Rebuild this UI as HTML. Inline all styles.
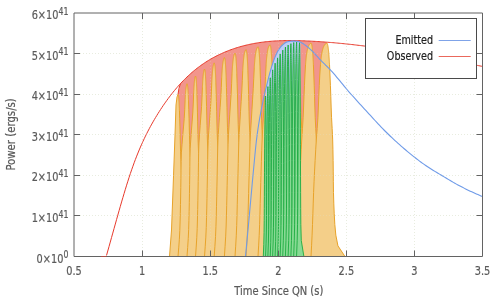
<!DOCTYPE html>
<html><head><meta charset="utf-8"><title>Power vs Time Since QN</title>
<style>html,body{margin:0;padding:0;background:#fff}svg{display:block}</style></head>
<body>
<svg width="500" height="300" viewBox="0 0 500 300">
<rect width="500" height="300" fill="#fff"/>
<path d="M74.00 215.50 H482.50 M74.00 175.50 H482.50 M74.00 134.50 H482.50 M74.00 94.50 H482.50 M74.00 53.50 H482.50 M142.50 13.00 V256.50 M210.50 13.00 V256.50 M278.50 13.00 V256.50 M346.50 13.00 V256.50 M414.50 13.00 V256.50" fill="none" stroke="#dde3cf" stroke-width="1" stroke-dasharray="1 2" opacity="0.55"/>
<path d="M178.00 94.50 L180.50 83.60 L181.48 82.55 L182.46 81.52 L183.45 80.51 L184.43 79.51 L185.41 78.54 L186.39 77.58 L187.37 76.64 L188.36 75.72 L189.34 74.82 L190.32 73.93 L191.30 73.06 L192.28 72.21 L193.26 71.38 L194.25 70.56 L195.23 69.76 L196.21 68.97 L197.19 68.20 L198.17 67.45 L199.16 66.71 L200.14 65.99 L201.12 65.28 L202.10 64.59 L203.08 63.91 L204.07 63.24 L205.05 62.59 L206.03 61.96 L207.01 61.33 L207.99 60.72 L208.97 60.13 L209.96 59.54 L210.94 58.97 L211.92 58.41 L212.90 57.87 L213.88 57.33 L214.87 56.81 L215.85 56.30 L216.83 55.80 L217.81 55.31 L218.79 54.83 L219.78 54.37 L220.76 53.91 L221.74 53.46 L222.72 53.02 L223.70 52.60 L224.68 52.18 L225.67 51.77 L226.65 51.37 L227.63 50.98 L228.61 50.59 L229.59 50.22 L230.58 49.85 L231.56 49.50 L232.54 49.15 L233.52 48.81 L234.50 48.48 L235.49 48.16 L236.47 47.84 L237.45 47.54 L238.43 47.24 L239.41 46.95 L240.39 46.66 L241.38 46.39 L242.36 46.12 L243.34 45.86 L244.32 45.61 L245.30 45.36 L246.29 45.12 L247.27 44.89 L248.25 44.67 L249.23 44.45 L250.21 44.24 L251.20 44.04 L252.18 43.84 L253.16 43.65 L254.14 43.47 L255.12 43.29 L256.10 43.12 L257.09 42.96 L258.07 42.80 L259.05 42.65 L260.03 42.51 L261.01 42.37 L262.00 42.23 L262.98 42.11 L263.96 41.98 L264.94 41.87 L265.92 41.76 L266.91 41.65 L267.89 41.55 L268.87 41.46 L269.85 41.37 L270.83 41.28 L271.81 41.20 L272.80 41.13 L273.78 41.06 L274.76 41.00 L275.74 40.94 L276.72 40.88 L277.71 40.83 L278.69 40.78 L279.67 40.74 L280.65 40.70 L281.63 40.67 L282.62 40.64 L283.60 40.62 L284.58 40.59 L285.56 40.58 L286.54 40.56 L287.52 40.55 L288.51 40.54 L289.49 40.54 L290.47 40.54 L291.45 40.54 L292.43 40.55 L293.42 40.56 L294.40 40.57 L295.38 40.59 L296.36 40.61 L297.34 40.63 L298.33 40.65 L299.31 40.68 L300.29 40.71 L301.27 40.74 L302.25 40.77 L303.23 40.81 L304.22 40.84 L305.20 40.88 L306.18 40.93 L307.16 40.97 L308.14 41.02 L309.13 41.06 L310.11 41.11 L311.09 41.16 L312.07 41.22 L313.05 41.27 L314.04 41.33 L315.02 41.38 L316.00 41.44 L316.98 41.50 L317.96 41.56 L318.94 41.63 L319.93 41.69 L320.91 41.76 L321.89 41.82 L322.87 41.89 L323.85 41.96 L324.84 42.04 L325.82 42.11 L326.80 42.18 L326.80 256.50 L178.00 256.50Z" fill="#f2958c" stroke="none"/>
<path d="M178 94.5 Q178.6 88 180.5 83.5" fill="none" stroke="#e8392b" stroke-width="1"/>
<path d="M169.50 256.50 L171.50 230.00 L173.00 190.00 L175.00 135.00 L176.00 105.00 L177.00 97.00 L178.00 94.50 L178.20 94.91 L178.34 95.31 L178.42 95.72 L178.50 96.12 L178.56 96.53 L178.62 96.93 L178.66 97.33 L178.71 97.74 L178.75 98.14 L178.78 98.55 L178.82 98.95 L178.85 99.36 L178.88 99.76 L178.91 100.17 L178.94 100.57 L178.97 100.98 L179.00 101.38 L179.03 101.79 L179.05 102.19 L179.08 102.60 L179.10 103.00 L179.13 103.41 L179.15 103.81 L179.17 104.22 L179.19 104.62 L179.21 105.03 L179.23 105.44 L179.25 105.84 L179.27 106.25 L179.29 106.65 L179.31 107.06 L179.33 107.46 L179.34 107.87 L179.36 108.27 L179.38 108.68 L179.39 109.08 L179.41 109.49 L179.42 109.89 L179.45 110.70 L179.71 118.80 L179.96 126.90 L180.15 135.00 L180.34 143.10 L180.56 151.20 L180.88 159.30 L181.23 167.40 L181.59 175.50 L181.91 183.60 L182.19 191.70 L182.45 199.80 L182.74 207.90 L183.12 216.00 L183.57 224.10 L184.10 232.20 L184.85 240.30 L186.20 248.40 L190.20 256.50Z" fill="#f4cf89" stroke="#e8a32a" stroke-width="1" stroke-linejoin="round"/>
<path d="M178.00 256.50 L178.73 247.86 L179.36 239.23 L179.80 230.59 L180.08 221.96 L180.30 213.32 L180.48 204.69 L180.64 196.05 L180.79 187.42 L180.91 178.78 L181.00 170.15 L181.13 161.51 L181.39 152.88 L182.04 144.24 L182.74 135.61 L183.51 126.97 L184.23 118.34 L184.73 109.70 L185.07 101.07 L185.11 100.20 L185.13 99.77 L185.15 99.34 L185.18 98.91 L185.20 98.47 L185.22 98.04 L185.25 97.61 L185.27 97.18 L185.30 96.75 L185.32 96.32 L185.35 95.88 L185.38 95.45 L185.41 95.02 L185.44 94.59 L185.47 94.16 L185.50 93.73 L185.53 93.29 L185.56 92.86 L185.60 92.43 L185.63 92.00 L185.67 91.57 L185.71 91.13 L185.75 90.70 L185.79 90.27 L185.83 89.84 L185.87 89.41 L185.92 88.98 L185.97 88.54 L186.02 88.11 L186.08 87.68 L186.14 87.25 L186.20 86.82 L186.27 86.39 L186.35 85.95 L186.44 85.52 L186.53 85.09 L186.65 84.66 L186.82 84.23 L187.00 83.79 L187.21 84.23 L187.36 84.66 L187.45 85.09 L187.53 85.52 L187.59 85.95 L187.65 86.39 L187.70 86.82 L187.75 87.25 L187.79 87.68 L187.83 88.11 L187.86 88.54 L187.90 88.98 L187.93 89.41 L187.97 89.84 L188.00 90.27 L188.03 90.70 L188.06 91.13 L188.09 91.57 L188.12 92.00 L188.14 92.43 L188.17 92.86 L188.19 93.29 L188.22 93.73 L188.24 94.16 L188.26 94.59 L188.28 95.02 L188.31 95.45 L188.33 95.88 L188.35 96.32 L188.37 96.75 L188.38 97.18 L188.40 97.61 L188.42 98.04 L188.44 98.47 L188.46 98.91 L188.47 99.34 L188.49 99.77 L188.51 100.20 L188.54 101.07 L188.81 109.70 L189.07 118.34 L189.28 126.97 L189.48 135.61 L189.71 144.24 L190.05 152.88 L190.42 161.51 L190.80 170.15 L191.14 178.78 L191.43 187.42 L191.71 196.05 L192.02 204.69 L192.42 213.32 L192.90 221.96 L193.46 230.59 L194.26 239.23 L195.68 247.86 L199.91 256.50Z" fill="#f4cf89" stroke="#e8a32a" stroke-width="1" stroke-linejoin="round"/>
<path d="M187.00 256.50 L187.67 247.47 L188.26 238.45 L188.66 229.42 L188.92 220.40 L189.13 211.37 L189.30 202.35 L189.46 193.32 L189.60 184.30 L189.72 175.27 L189.82 166.25 L189.95 157.22 L190.20 148.20 L190.81 139.17 L191.45 130.15 L192.16 121.12 L192.83 112.10 L193.29 103.07 L193.61 94.05 L193.65 93.15 L193.67 92.69 L193.69 92.24 L193.71 91.79 L193.73 91.34 L193.76 90.89 L193.78 90.44 L193.80 89.99 L193.83 89.54 L193.85 89.08 L193.88 88.63 L193.91 88.18 L193.93 87.73 L193.96 87.28 L193.99 86.83 L194.02 86.38 L194.05 85.93 L194.08 85.47 L194.11 85.02 L194.15 84.57 L194.18 84.12 L194.22 83.67 L194.26 83.22 L194.30 82.77 L194.34 82.32 L194.38 81.86 L194.43 81.41 L194.48 80.96 L194.53 80.51 L194.58 80.06 L194.64 79.61 L194.70 79.16 L194.77 78.71 L194.85 78.25 L194.94 77.80 L195.03 77.35 L195.15 76.90 L195.31 76.45 L195.50 76.00 L195.70 76.45 L195.84 76.90 L195.92 77.35 L196.00 77.80 L196.06 78.25 L196.12 78.71 L196.16 79.16 L196.21 79.61 L196.25 80.06 L196.28 80.51 L196.32 80.96 L196.35 81.41 L196.38 81.86 L196.41 82.32 L196.44 82.77 L196.47 83.22 L196.50 83.67 L196.53 84.12 L196.55 84.57 L196.58 85.02 L196.60 85.47 L196.63 85.93 L196.65 86.38 L196.67 86.83 L196.69 87.28 L196.71 87.73 L196.73 88.18 L196.75 88.63 L196.77 89.08 L196.79 89.54 L196.81 89.99 L196.83 90.44 L196.84 90.89 L196.86 91.34 L196.88 91.79 L196.89 92.24 L196.91 92.69 L196.92 93.15 L196.95 94.05 L197.21 103.07 L197.46 112.10 L197.65 121.12 L197.84 130.15 L198.06 139.17 L198.38 148.20 L198.73 157.22 L199.09 166.25 L199.41 175.27 L199.69 184.30 L199.95 193.32 L200.24 202.35 L200.62 211.37 L201.07 220.40 L201.60 229.42 L202.35 238.45 L203.70 247.47 L207.70 256.50Z" fill="#f4cf89" stroke="#e8a32a" stroke-width="1" stroke-linejoin="round"/>
<path d="M195.50 256.50 L196.19 247.13 L196.78 237.76 L197.19 228.38 L197.46 219.01 L197.68 209.64 L197.87 200.27 L198.04 190.89 L198.20 181.52 L198.34 172.15 L198.47 162.78 L198.62 153.40 L198.90 144.03 L199.53 134.66 L200.18 125.29 L200.89 115.92 L201.56 106.54 L202.04 97.17 L202.38 87.80 L202.42 86.86 L202.45 86.39 L202.47 85.92 L202.49 85.46 L202.52 84.99 L202.54 84.52 L202.57 84.05 L202.59 83.58 L202.62 83.11 L202.65 82.64 L202.67 82.18 L202.70 81.71 L202.73 81.24 L202.76 80.77 L202.79 80.30 L202.83 79.83 L202.86 79.36 L202.89 78.90 L202.93 78.43 L202.97 77.96 L203.01 77.49 L203.05 77.02 L203.09 76.55 L203.13 76.08 L203.18 75.61 L203.23 75.15 L203.28 74.68 L203.33 74.21 L203.39 73.74 L203.45 73.27 L203.51 72.80 L203.58 72.33 L203.66 71.87 L203.75 71.40 L203.85 70.93 L203.95 70.46 L204.09 69.99 L204.28 69.52 L204.50 69.05 L204.71 69.52 L204.86 69.99 L204.95 70.46 L205.03 70.93 L205.09 71.40 L205.15 71.87 L205.20 72.33 L205.25 72.80 L205.29 73.27 L205.33 73.74 L205.36 74.21 L205.40 74.68 L205.43 75.15 L205.47 75.61 L205.50 76.08 L205.53 76.55 L205.56 77.02 L205.59 77.49 L205.62 77.96 L205.64 78.43 L205.67 78.90 L205.69 79.36 L205.72 79.83 L205.74 80.30 L205.76 80.77 L205.78 81.24 L205.81 81.71 L205.83 82.18 L205.85 82.64 L205.87 83.11 L205.88 83.58 L205.90 84.05 L205.92 84.52 L205.94 84.99 L205.96 85.46 L205.97 85.92 L205.99 86.39 L206.01 86.86 L206.04 87.80 L206.31 97.17 L206.57 106.54 L206.78 115.92 L206.98 125.29 L207.21 134.66 L207.55 144.03 L207.92 153.40 L208.30 162.78 L208.64 172.15 L208.93 181.52 L209.21 190.89 L209.52 200.27 L209.92 209.64 L210.40 219.01 L210.96 228.38 L211.76 237.76 L213.18 247.13 L217.41 256.50Z" fill="#f4cf89" stroke="#e8a32a" stroke-width="1" stroke-linejoin="round"/>
<path d="M204.50 256.50 L205.20 246.82 L205.82 237.14 L206.25 227.46 L206.53 217.78 L206.77 208.09 L206.97 198.41 L207.16 188.73 L207.35 179.05 L207.52 169.37 L207.67 159.69 L207.86 150.01 L208.18 140.33 L208.84 130.64 L209.50 120.96 L210.22 111.28 L210.91 101.60 L211.40 91.92 L211.78 82.24 L211.83 81.27 L211.85 80.79 L211.88 80.30 L211.90 79.82 L211.93 79.33 L211.96 78.85 L211.98 78.37 L212.01 77.88 L212.04 77.40 L212.07 76.91 L212.10 76.43 L212.13 75.95 L212.17 75.46 L212.20 74.98 L212.24 74.49 L212.27 74.01 L212.31 73.53 L212.35 73.04 L212.39 72.56 L212.43 72.07 L212.47 71.59 L212.52 71.11 L212.57 70.62 L212.62 70.14 L212.67 69.65 L212.72 69.17 L212.78 68.69 L212.84 68.20 L212.90 67.72 L212.97 67.23 L213.05 66.75 L213.13 66.26 L213.22 65.78 L213.32 65.30 L213.43 64.81 L213.56 64.33 L213.71 63.84 L213.94 63.36 L214.20 62.88 L214.42 63.36 L214.59 63.84 L214.68 64.33 L214.77 64.81 L214.84 65.30 L214.90 65.78 L214.96 66.26 L215.01 66.75 L215.05 67.23 L215.09 67.72 L215.13 68.20 L215.17 68.69 L215.21 69.17 L215.24 69.65 L215.28 70.14 L215.31 70.62 L215.34 71.11 L215.37 71.59 L215.40 72.07 L215.43 72.56 L215.46 73.04 L215.49 73.53 L215.51 74.01 L215.54 74.49 L215.56 74.98 L215.58 75.46 L215.61 75.95 L215.63 76.43 L215.65 76.91 L215.67 77.40 L215.69 77.88 L215.71 78.37 L215.73 78.85 L215.75 79.33 L215.77 79.82 L215.79 80.30 L215.81 80.79 L215.82 81.27 L215.86 82.24 L216.15 91.92 L216.43 101.60 L216.66 111.28 L216.87 120.96 L217.12 130.64 L217.48 140.33 L217.89 150.01 L218.30 159.69 L218.66 169.37 L218.98 179.05 L219.27 188.73 L219.61 198.41 L220.04 208.09 L220.55 217.78 L221.16 227.46 L222.02 237.14 L223.56 246.82 L228.12 256.50Z" fill="#f4cf89" stroke="#e8a32a" stroke-width="1" stroke-linejoin="round"/>
<path d="M214.20 256.50 L214.90 246.56 L215.52 236.61 L215.95 226.67 L216.25 216.72 L216.49 206.78 L216.71 196.83 L216.92 186.89 L217.13 176.94 L217.32 167.00 L217.50 157.05 L217.72 147.11 L218.08 137.16 L218.75 127.22 L219.41 117.27 L220.12 107.33 L220.80 97.38 L221.30 87.44 L221.71 77.49 L221.76 76.50 L221.78 76.00 L221.81 75.50 L221.84 75.00 L221.86 74.51 L221.89 74.01 L221.92 73.51 L221.95 73.02 L221.99 72.52 L222.02 72.02 L222.05 71.52 L222.09 71.03 L222.12 70.53 L222.16 70.03 L222.20 69.54 L222.24 69.04 L222.28 68.54 L222.32 68.04 L222.36 67.55 L222.41 67.05 L222.46 66.55 L222.51 66.05 L222.56 65.56 L222.61 65.06 L222.67 64.56 L222.73 64.07 L222.79 63.57 L222.86 63.07 L222.93 62.57 L223.01 62.08 L223.09 61.58 L223.18 61.08 L223.28 60.58 L223.39 60.09 L223.52 59.59 L223.66 59.09 L223.84 58.60 L224.09 58.10 L224.40 57.60 L224.63 58.10 L224.81 58.60 L224.91 59.09 L225.00 59.59 L225.07 60.09 L225.14 60.58 L225.20 61.08 L225.25 61.58 L225.30 62.08 L225.34 62.57 L225.38 63.07 L225.42 63.57 L225.46 64.07 L225.50 64.56 L225.53 65.06 L225.57 65.56 L225.60 66.05 L225.63 66.55 L225.67 67.05 L225.70 67.55 L225.72 68.04 L225.75 68.54 L225.78 69.04 L225.81 69.54 L225.83 70.03 L225.86 70.53 L225.88 71.03 L225.90 71.52 L225.93 72.02 L225.95 72.52 L225.97 73.02 L225.99 73.51 L226.01 74.01 L226.03 74.51 L226.05 75.00 L226.07 75.50 L226.09 76.00 L226.11 76.50 L226.14 77.49 L226.45 87.44 L226.75 97.38 L226.98 107.33 L227.21 117.27 L227.47 127.22 L227.85 137.16 L228.28 147.11 L228.71 157.05 L229.09 167.00 L229.42 176.94 L229.74 186.89 L230.09 196.83 L230.54 206.78 L231.08 216.72 L231.72 226.67 L232.62 236.61 L234.24 246.56 L239.04 256.50Z" fill="#f4cf89" stroke="#e8a32a" stroke-width="1" stroke-linejoin="round"/>
<path d="M224.40 256.50 L225.09 246.33 L225.69 236.17 L226.13 226.00 L226.43 215.84 L226.68 205.67 L226.91 195.51 L227.14 185.34 L227.37 175.18 L227.59 165.01 L227.80 154.85 L228.05 144.68 L228.45 134.52 L229.12 124.35 L229.76 114.19 L230.45 104.02 L231.11 93.86 L231.61 83.69 L232.04 73.53 L232.09 72.51 L232.12 72.00 L232.15 71.49 L232.18 70.98 L232.21 70.48 L232.24 69.97 L232.27 69.46 L232.30 68.95 L232.34 68.44 L232.37 67.94 L232.41 67.43 L232.44 66.92 L232.48 66.41 L232.52 65.90 L232.56 65.39 L232.60 64.89 L232.65 64.38 L232.69 63.87 L232.74 63.36 L232.79 62.85 L232.84 62.34 L232.89 61.84 L232.95 61.33 L233.01 60.82 L233.07 60.31 L233.14 59.80 L233.21 59.29 L233.28 58.79 L233.36 58.28 L233.44 57.77 L233.53 57.26 L233.63 56.75 L233.74 56.25 L233.87 55.74 L234.01 55.23 L234.17 54.72 L234.36 54.21 L234.65 53.70 L235.00 53.20 L235.24 53.70 L235.42 54.21 L235.53 54.72 L235.62 55.23 L235.70 55.74 L235.77 56.25 L235.83 56.75 L235.88 57.26 L235.93 57.77 L235.98 58.28 L236.02 58.79 L236.06 59.29 L236.10 59.80 L236.14 60.31 L236.18 60.82 L236.21 61.33 L236.25 61.84 L236.28 62.34 L236.32 62.85 L236.35 63.36 L236.38 63.87 L236.41 64.38 L236.43 64.89 L236.46 65.39 L236.49 65.90 L236.51 66.41 L236.54 66.92 L236.56 67.43 L236.59 67.94 L236.61 68.44 L236.63 68.95 L236.65 69.46 L236.67 69.97 L236.70 70.48 L236.72 70.98 L236.74 71.49 L236.76 72.00 L236.78 72.51 L236.81 73.53 L237.13 83.69 L237.44 93.86 L237.69 104.02 L237.92 114.19 L238.19 124.35 L238.59 134.52 L239.03 144.68 L239.48 154.85 L239.88 165.01 L240.22 175.18 L240.55 185.34 L240.91 195.51 L241.38 205.67 L241.94 215.84 L242.60 226.00 L243.55 236.17 L245.23 246.33 L250.21 256.50Z" fill="#f4cf89" stroke="#e8a32a" stroke-width="1" stroke-linejoin="round"/>
<path d="M235.00 256.50 L235.68 246.16 L236.27 235.81 L236.70 225.47 L237.00 215.13 L237.26 204.78 L237.50 194.44 L237.74 184.10 L238.00 173.75 L238.25 163.41 L238.50 153.07 L238.79 142.72 L239.21 132.38 L239.88 122.04 L240.50 111.69 L241.16 101.35 L241.80 91.01 L242.30 80.66 L242.75 70.32 L242.81 69.28 L242.84 68.77 L242.87 68.25 L242.90 67.73 L242.93 67.22 L242.96 66.70 L243.00 66.18 L243.03 65.66 L243.07 65.15 L243.11 64.63 L243.14 64.11 L243.18 63.60 L243.22 63.08 L243.27 62.56 L243.31 62.04 L243.35 61.53 L243.40 61.01 L243.45 60.49 L243.50 59.98 L243.55 59.46 L243.61 58.94 L243.67 58.42 L243.73 57.91 L243.79 57.39 L243.86 56.87 L243.93 56.35 L244.01 55.84 L244.09 55.32 L244.17 54.80 L244.26 54.29 L244.36 53.77 L244.47 53.25 L244.59 52.73 L244.73 52.22 L244.89 51.70 L245.07 51.18 L245.28 50.67 L245.60 50.15 L246.00 49.63 L246.25 50.15 L246.44 50.67 L246.55 51.18 L246.64 51.70 L246.72 52.22 L246.80 52.73 L246.86 53.25 L246.92 53.77 L246.97 54.29 L247.01 54.80 L247.06 55.32 L247.10 55.84 L247.14 56.35 L247.18 56.87 L247.22 57.39 L247.26 57.91 L247.30 58.42 L247.33 58.94 L247.37 59.46 L247.40 59.98 L247.43 60.49 L247.46 61.01 L247.49 61.53 L247.52 62.04 L247.54 62.56 L247.57 63.08 L247.60 63.60 L247.62 64.11 L247.65 64.63 L247.67 65.15 L247.69 65.66 L247.72 66.18 L247.74 66.70 L247.76 67.22 L247.78 67.73 L247.80 68.25 L247.82 68.77 L247.84 69.28 L247.88 70.32 L248.21 80.66 L248.53 91.01 L248.79 101.35 L249.03 111.69 L249.31 122.04 L249.72 132.38 L250.18 142.72 L250.65 153.07 L251.06 163.41 L251.42 173.75 L251.75 184.10 L252.13 194.44 L252.62 204.78 L253.21 215.13 L253.89 225.47 L254.87 235.81 L256.61 246.16 L261.79 256.50Z" fill="#f4cf89" stroke="#e8a32a" stroke-width="1" stroke-linejoin="round"/>
<path d="M246.00 256.50 L246.69 246.01 L247.29 235.53 L247.74 225.04 L248.06 214.55 L248.33 204.07 L248.60 193.58 L248.88 183.10 L249.18 172.61 L249.48 162.12 L249.77 151.64 L250.12 141.15 L250.62 130.66 L251.31 120.18 L251.94 109.69 L252.59 99.20 L253.23 88.72 L253.75 78.23 L254.25 67.75 L254.31 66.70 L254.34 66.17 L254.38 65.65 L254.41 65.12 L254.45 64.60 L254.48 64.08 L254.52 63.55 L254.56 63.03 L254.60 62.50 L254.64 61.98 L254.69 61.45 L254.73 60.93 L254.78 60.41 L254.82 59.88 L254.87 59.36 L254.92 58.83 L254.98 58.31 L255.03 57.78 L255.09 57.26 L255.15 56.74 L255.21 56.21 L255.28 55.69 L255.35 55.16 L255.42 54.64 L255.50 54.11 L255.58 53.59 L255.67 53.07 L255.76 52.54 L255.86 52.02 L255.96 51.49 L256.08 50.97 L256.20 50.44 L256.35 49.92 L256.51 49.39 L256.69 48.87 L256.90 48.35 L257.14 47.82 L257.52 47.30 L258.00 46.77 L258.28 47.30 L258.48 47.82 L258.60 48.35 L258.70 48.87 L258.79 49.39 L258.87 49.92 L258.94 50.44 L259.00 50.97 L259.05 51.49 L259.10 52.02 L259.15 52.54 L259.20 53.07 L259.25 53.59 L259.29 54.11 L259.33 54.64 L259.37 55.16 L259.41 55.69 L259.45 56.21 L259.49 56.74 L259.52 57.26 L259.56 57.78 L259.59 58.31 L259.62 58.83 L259.65 59.36 L259.68 59.88 L259.71 60.41 L259.74 60.93 L259.77 61.45 L259.79 61.98 L259.82 62.50 L259.85 63.03 L259.87 63.55 L259.90 64.08 L259.92 64.60 L259.94 65.12 L259.97 65.65 L259.99 66.17 L260.01 66.70 L260.05 67.75 L260.41 78.23 L260.76 88.72 L261.04 99.20 L261.30 109.69 L261.61 120.18 L262.06 130.66 L262.56 141.15 L263.07 151.64 L263.52 162.12 L263.91 172.61 L264.28 183.10 L264.69 193.58 L265.23 204.07 L265.86 214.55 L266.61 225.04 L267.68 235.53 L269.58 246.01 L275.22 256.50Z" fill="#f4cf89" stroke="#e8a32a" stroke-width="1" stroke-linejoin="round"/>
<path d="M258.00 256.50 L258.63 245.92 L259.19 235.33 L259.62 224.75 L259.93 214.17 L260.20 203.58 L260.48 193.00 L260.77 182.42 L261.08 171.83 L261.40 161.25 L261.73 150.67 L262.11 140.08 L262.63 129.50 L263.30 118.92 L263.87 108.33 L264.45 97.75 L265.04 87.17 L265.54 76.58 L266.04 66.00 L266.10 64.94 L266.14 64.41 L266.17 63.88 L266.21 63.36 L266.24 62.83 L266.28 62.30 L266.32 61.77 L266.36 61.24 L266.40 60.71 L266.45 60.18 L266.49 59.65 L266.54 59.12 L266.58 58.59 L266.63 58.06 L266.68 57.53 L266.73 57.01 L266.79 56.48 L266.85 55.95 L266.91 55.42 L266.97 54.89 L267.03 54.36 L267.10 53.83 L267.18 53.30 L267.25 52.77 L267.33 52.24 L267.42 51.71 L267.51 51.19 L267.61 50.66 L267.71 50.13 L267.82 49.60 L267.94 49.07 L268.07 48.54 L268.22 48.01 L268.40 47.48 L268.59 46.95 L268.81 46.42 L269.08 45.89 L269.48 45.36 L270.00 44.84 L270.28 45.36 L270.48 45.89 L270.60 46.42 L270.70 46.95 L270.79 47.48 L270.87 48.01 L270.94 48.54 L271.00 49.07 L271.05 49.60 L271.10 50.13 L271.15 50.66 L271.20 51.19 L271.25 51.71 L271.29 52.24 L271.33 52.77 L271.37 53.30 L271.41 53.83 L271.45 54.36 L271.49 54.89 L271.52 55.42 L271.56 55.95 L271.59 56.48 L271.62 57.01 L271.65 57.53 L271.68 58.06 L271.71 58.59 L271.74 59.12 L271.77 59.65 L271.79 60.18 L271.82 60.71 L271.85 61.24 L271.87 61.77 L271.90 62.30 L271.92 62.83 L271.94 63.36 L271.97 63.88 L271.99 64.41 L272.01 64.94 L272.05 66.00 L272.41 76.58 L272.76 87.17 L273.04 97.75 L273.30 108.33 L273.61 118.92 L274.06 129.50 L274.56 140.08 L275.07 150.67 L275.52 161.25 L275.91 171.83 L276.28 182.42 L276.69 193.00 L277.23 203.58 L277.86 214.17 L278.61 224.75 L279.68 235.33 L281.58 245.92 L287.22 256.50Z" fill="#f4cf89" stroke="#e8a32a" stroke-width="1" stroke-linejoin="round"/>
<path d="M270.00 256.50 L270.63 245.85 L271.18 235.21 L271.62 224.56 L271.94 213.92 L272.24 203.27 L272.54 192.63 L272.87 181.98 L273.23 171.34 L273.60 160.69 L274.00 150.05 L274.45 139.40 L275.04 128.75 L275.73 118.11 L276.28 107.46 L276.83 96.82 L277.40 86.17 L277.91 75.53 L278.47 64.88 L278.54 63.82 L278.57 63.28 L278.61 62.75 L278.65 62.22 L278.69 61.69 L278.74 61.16 L278.78 60.62 L278.82 60.09 L278.87 59.56 L278.92 59.03 L278.97 58.49 L279.02 57.96 L279.07 57.43 L279.13 56.90 L279.18 56.36 L279.24 55.83 L279.30 55.30 L279.37 54.77 L279.43 54.24 L279.50 53.70 L279.58 53.17 L279.65 52.64 L279.74 52.11 L279.82 51.57 L279.92 51.04 L280.02 50.51 L280.12 49.98 L280.23 49.45 L280.35 48.91 L280.47 48.38 L280.61 47.85 L280.76 47.32 L280.94 46.78 L281.13 46.25 L281.36 45.72 L281.62 45.19 L281.92 44.65 L282.39 44.12 L283.00 43.59 L283.30 44.12 L283.52 44.65 L283.65 45.19 L283.76 45.72 L283.86 46.25 L283.94 46.78 L284.02 47.32 L284.08 47.85 L284.14 48.38 L284.20 48.91 L284.25 49.45 L284.30 49.98 L284.35 50.51 L284.40 51.04 L284.44 51.57 L284.49 52.11 L284.53 52.64 L284.57 53.17 L284.61 53.70 L284.65 54.24 L284.69 54.77 L284.72 55.30 L284.76 55.83 L284.79 56.36 L284.82 56.90 L284.86 57.43 L284.89 57.96 L284.92 58.49 L284.94 59.03 L284.97 59.56 L285.00 60.09 L285.03 60.62 L285.05 61.16 L285.08 61.69 L285.11 62.22 L285.13 62.75 L285.15 63.28 L285.18 63.82 L285.22 64.88 L285.61 75.53 L285.99 86.17 L286.29 96.82 L286.58 107.46 L286.91 118.11 L287.40 128.75 L287.94 139.40 L288.50 150.05 L288.98 160.69 L289.40 171.34 L289.80 181.98 L290.25 192.63 L290.83 203.27 L291.51 213.92 L292.33 224.56 L293.48 235.21 L295.54 245.85 L301.65 256.50Z" fill="#f4cf89" stroke="#e8a32a" stroke-width="1" stroke-linejoin="round"/>
<path d="M283.00 256.50 L283.61 245.83 L284.15 235.15 L284.58 224.48 L284.92 213.80 L285.23 203.13 L285.56 192.46 L285.93 181.78 L286.35 171.11 L286.79 160.43 L287.25 149.76 L287.78 139.09 L288.45 128.41 L289.15 117.74 L289.67 107.06 L290.17 96.39 L290.71 85.71 L291.22 75.04 L291.83 64.37 L291.91 63.30 L291.95 62.77 L292.00 62.23 L292.04 61.70 L292.08 61.16 L292.13 60.63 L292.18 60.10 L292.23 59.56 L292.28 59.03 L292.33 58.50 L292.39 57.96 L292.45 57.43 L292.51 56.90 L292.57 56.36 L292.63 55.83 L292.69 55.29 L292.76 54.76 L292.83 54.23 L292.91 53.69 L292.99 53.16 L293.07 52.63 L293.16 52.09 L293.25 51.56 L293.35 51.02 L293.45 50.49 L293.57 49.96 L293.68 49.42 L293.81 48.89 L293.94 48.36 L294.08 47.82 L294.24 47.29 L294.41 46.75 L294.61 46.22 L294.84 45.69 L295.10 45.15 L295.40 44.62 L295.74 44.09 L296.29 43.55 L297.00 43.02 L297.32 43.55 L297.56 44.09 L297.70 44.62 L297.82 45.15 L297.92 45.69 L298.01 46.22 L298.09 46.75 L298.17 47.29 L298.23 47.82 L298.29 48.36 L298.35 48.89 L298.40 49.42 L298.45 49.96 L298.51 50.49 L298.56 51.02 L298.60 51.56 L298.65 52.09 L298.69 52.63 L298.74 53.16 L298.78 53.69 L298.82 54.23 L298.86 54.76 L298.89 55.29 L298.93 55.83 L298.96 56.36 L299.00 56.90 L299.03 57.43 L299.06 57.96 L299.09 58.50 L299.12 59.03 L299.15 59.56 L299.18 60.10 L299.21 60.63 L299.24 61.16 L299.27 61.70 L299.29 62.23 L299.32 62.77 L299.35 63.30 L299.39 64.37 L299.82 75.04 L300.22 85.71 L300.55 96.39 L300.85 107.06 L301.21 117.74 L301.74 128.41 L302.32 139.09 L302.92 149.76 L303.44 160.43 L303.89 171.11 L304.32 181.78 L304.80 192.46 L305.43 203.13 L306.17 213.80 L307.04 224.48 L308.29 235.15 L310.50 245.83 L317.09 256.50Z" fill="#f4cf89" stroke="#e8a32a" stroke-width="1" stroke-linejoin="round"/>
<path d="M297.00 256.50 L297.54 245.82 L298.02 235.15 L298.42 224.47 L298.75 213.80 L299.06 203.12 L299.39 192.45 L299.78 181.77 L300.22 171.10 L300.69 160.42 L301.20 149.75 L301.77 139.07 L302.48 128.40 L303.13 117.72 L303.58 107.05 L303.99 96.37 L304.45 85.70 L304.93 75.02 L305.55 64.35 L305.63 63.28 L305.67 62.75 L305.72 62.21 L305.76 61.68 L305.81 61.15 L305.86 60.61 L305.91 60.08 L305.96 59.55 L306.01 59.01 L306.07 58.48 L306.12 57.94 L306.18 57.41 L306.24 56.88 L306.30 56.34 L306.37 55.81 L306.44 55.28 L306.51 54.74 L306.58 54.21 L306.66 53.67 L306.74 53.14 L306.83 52.61 L306.92 52.07 L307.02 51.54 L307.12 51.01 L307.23 50.47 L307.35 49.94 L307.47 49.40 L307.60 48.87 L307.74 48.34 L307.89 47.80 L308.05 47.27 L308.24 46.74 L308.45 46.20 L308.69 45.67 L308.96 45.13 L309.28 44.60 L309.65 44.07 L310.23 43.53 L311.00 43.00 L311.32 43.53 L311.56 44.07 L311.70 44.60 L311.82 45.13 L311.92 45.67 L312.01 46.20 L312.09 46.74 L312.17 47.27 L312.23 47.80 L312.29 48.34 L312.35 48.87 L312.40 49.40 L312.45 49.94 L312.51 50.47 L312.56 51.01 L312.60 51.54 L312.65 52.07 L312.69 52.61 L312.74 53.14 L312.78 53.67 L312.82 54.21 L312.86 54.74 L312.89 55.28 L312.93 55.81 L312.96 56.34 L313.00 56.88 L313.03 57.41 L313.06 57.94 L313.09 58.48 L313.12 59.01 L313.15 59.55 L313.18 60.08 L313.21 60.61 L313.24 61.15 L313.27 61.68 L313.29 62.21 L313.32 62.75 L313.35 63.28 L313.39 64.35 L313.82 75.02 L314.22 85.70 L314.55 96.37 L314.85 107.05 L315.21 117.72 L315.74 128.40 L316.32 139.07 L316.92 149.75 L317.44 160.42 L317.89 171.10 L318.32 181.77 L318.80 192.45 L319.43 203.12 L320.17 213.80 L321.04 224.47 L322.29 235.15 L324.50 245.82 L331.09 256.50Z" fill="#f4cf89" stroke="#e8a32a" stroke-width="1" stroke-linejoin="round"/>
<path d="M311.00 256.50 L311.57 245.82 L312.08 235.15 L312.51 224.47 L312.88 213.80 L313.22 203.12 L313.60 192.45 L314.05 181.77 L314.56 171.10 L315.11 160.43 L315.71 149.75 L316.37 139.07 L317.20 128.40 L317.91 117.72 L318.37 107.05 L318.78 96.38 L319.26 85.70 L319.78 75.02 L320.49 64.35 L320.58 63.28 L320.63 62.75 L320.68 62.22 L320.73 61.68 L320.78 61.15 L320.84 60.61 L320.90 60.08 L320.96 59.55 L321.02 59.01 L321.08 58.48 L321.14 57.94 L321.21 57.41 L321.28 56.88 L321.35 56.34 L321.43 55.81 L321.51 55.28 L321.59 54.74 L321.67 54.21 L321.76 53.68 L321.85 53.14 L321.95 52.61 L322.06 52.07 L322.17 51.54 L322.29 51.01 L322.42 50.47 L322.55 49.94 L322.69 49.41 L322.85 48.87 L323.01 48.34 L323.18 47.80 L323.37 47.27 L323.58 46.74 L323.83 46.20 L324.11 45.67 L324.43 45.13 L324.80 44.60 L325.22 44.07 L325.90 43.53 L326.80 43.00 L327.16 43.53 L327.43 44.07 L327.59 44.60 L327.72 45.13 L327.84 45.67 L327.94 46.20 L328.04 46.74 L328.12 47.27 L328.19 47.80 L328.25 48.34 L328.32 48.87 L328.38 49.41 L328.44 49.94 L328.50 50.47 L328.56 51.01 L328.61 51.54 L328.66 52.07 L328.71 52.61 L328.76 53.14 L328.81 53.68 L328.85 54.21 L328.90 54.74 L328.94 55.28 L328.98 55.81 L329.02 56.34 L329.06 56.88 L329.09 57.41 L329.13 57.94 L329.16 58.48 L329.20 59.01 L329.23 59.55 L329.26 60.08 L329.30 60.61 L329.33 61.15 L329.36 61.68 L329.39 62.22 L329.42 62.75 L329.45 63.28 L329.50 64.35 L329.98 75.02 L330.43 85.70 L330.80 96.38 L331.15 107.05 L331.56 117.72 L332.15 128.40 L332.65 139.07 L332.93 149.75 L333.12 160.43 L333.24 171.10 L333.33 181.77 L333.48 192.45 L333.79 203.12 L334.23 213.80 L334.82 224.47 L335.83 235.15 L337.93 245.82 L344.97 256.50Z" fill="#f4cf89" stroke="#e8a32a" stroke-width="1" stroke-linejoin="round"/>
<path d="M106.50 255.45 L107.76 251.03 L109.02 246.57 L110.27 242.09 L111.53 237.59 L112.79 233.09 L114.05 228.58 L115.30 224.08 L116.56 219.59 L117.82 215.13 L119.08 210.69 L120.33 206.30 L121.59 201.95 L122.85 197.66 L124.11 193.43 L125.36 189.26 L126.62 185.18 L127.88 181.19 L129.14 177.28 L130.39 173.48 L131.65 169.80 L132.91 166.22 L134.17 162.76 L135.42 159.41 L136.68 156.17 L137.94 153.02 L139.20 149.98 L140.45 147.03 L141.71 144.17 L142.97 141.39 L144.23 138.70 L145.48 136.09 L146.74 133.55 L148.00 131.09 L149.26 128.69 L150.51 126.35 L151.77 124.08 L153.03 121.86 L154.29 119.69 L155.54 117.57 L156.80 115.49 L158.06 113.46 L159.32 111.47 L160.57 109.52 L161.83 107.61 L163.09 105.73 L164.35 103.90 L165.60 102.11 L166.86 100.35 L168.12 98.63 L169.38 96.95 L170.63 95.30 L171.89 93.69 L173.15 92.12 L174.41 90.58 L175.66 89.08 L176.92 87.60 L178.18 86.17 L179.44 84.76 L180.69 83.39 L181.95 82.06 L183.21 80.75 L184.47 79.47 L185.72 78.23 L186.98 77.01 L188.24 75.83 L189.50 74.67 L190.75 73.54 L192.01 72.44 L193.27 71.37 L194.53 70.33 L195.78 69.31 L197.04 68.32 L198.30 67.35 L199.56 66.41 L200.81 65.50 L202.07 64.61 L203.33 63.74 L204.59 62.90 L205.84 62.08 L207.10 61.28 L208.36 60.50 L209.62 59.74 L210.87 59.01 L212.13 58.30 L213.39 57.60 L214.65 56.93 L215.90 56.27 L217.16 55.63 L218.42 55.01 L219.68 54.41 L220.93 53.83 L222.19 53.26 L223.45 52.70 L224.71 52.17 L225.96 51.65 L227.22 51.14 L228.48 50.64 L229.74 50.17 L230.99 49.70 L232.25 49.25 L233.51 48.81 L234.77 48.39 L236.03 47.98 L237.28 47.59 L238.54 47.20 L239.80 46.83 L241.06 46.48 L242.31 46.13 L243.57 45.80 L244.83 45.48 L246.09 45.17 L247.34 44.87 L248.60 44.59 L249.86 44.32 L251.12 44.06 L252.37 43.80 L253.63 43.56 L254.89 43.34 L256.15 43.12 L257.40 42.91 L258.66 42.71 L259.92 42.52 L261.18 42.34 L262.43 42.18 L263.69 42.02 L264.95 41.87 L266.21 41.73 L267.46 41.59 L268.72 41.47 L269.98 41.36 L271.24 41.25 L272.49 41.15 L273.75 41.06 L275.01 40.98 L276.27 40.91 L277.52 40.84 L278.78 40.78 L280.04 40.73 L281.30 40.68 L282.55 40.64 L283.81 40.61 L285.07 40.58 L286.33 40.56 L287.58 40.55 L288.84 40.54 L290.10 40.54 L291.36 40.54 L292.61 40.55 L293.87 40.56 L295.13 40.58 L296.39 40.61 L297.64 40.63 L298.90 40.67 L300.16 40.70 L301.42 40.74 L302.67 40.79 L303.93 40.83 L305.19 40.88 L306.45 40.94 L307.70 41.00 L308.96 41.06 L310.22 41.12 L311.48 41.18 L312.73 41.25 L313.99 41.32 L315.25 41.40 L316.51 41.47 L317.76 41.55 L319.02 41.63 L320.28 41.71 L321.54 41.80 L322.79 41.89 L324.05 41.98 L325.31 42.07 L326.57 42.17 L327.82 42.26 L329.08 42.36 L330.34 42.46 L331.60 42.57 L332.85 42.67 L334.11 42.78 L335.37 42.89 L336.63 43.01 L337.88 43.12 L339.14 43.24 L340.40 43.36 L341.66 43.48 L342.91 43.61 L344.17 43.73 L345.43 43.86 L346.69 43.99 L347.94 44.12 L349.20 44.26 L350.46 44.39 L351.72 44.53 L352.97 44.67 L354.23 44.82 L355.49 44.96 L356.75 45.11 L358.01 45.25 L359.26 45.40 L360.52 45.56 L361.78 45.71 L363.04 45.86 L364.29 46.02 L365.55 46.18 L366.81 46.34 L368.07 46.51 L369.32 46.67 L370.58 46.84 L371.84 47.00 L373.10 47.17 L374.35 47.35 L375.61 47.52 L376.87 47.69 L378.13 47.87 L379.38 48.05 L380.64 48.23 L381.90 48.41 L383.16 48.59 L384.41 48.77 L385.67 48.96 L386.93 49.15 L388.19 49.34 L389.44 49.53 L390.70 49.72 L391.96 49.91 L393.22 50.11 L394.47 50.30 L395.73 50.50 L396.99 50.70 L398.25 50.90 L399.50 51.10 L400.76 51.30 L402.02 51.50 L403.28 51.71 L404.53 51.92 L405.79 52.12 L407.05 52.33 L408.31 52.54 L409.56 52.75 L410.82 52.97 L412.08 53.18 L413.34 53.39 L414.59 53.61 L415.85 53.83 L417.11 54.04 L418.37 54.26 L419.62 54.48 L420.88 54.70 L422.14 54.93 L423.40 55.15 L424.65 55.37 L425.91 55.60 L427.17 55.83 L428.43 56.05 L429.68 56.28 L430.94 56.51 L432.20 56.74 L433.46 56.97 L434.71 57.20 L435.97 57.43 L437.23 57.66 L438.49 57.90 L439.74 58.13 L441.00 58.37 L442.26 58.60 L443.52 58.84 L444.77 59.08 L446.03 59.31 L447.29 59.55 L448.55 59.79 L449.80 60.03 L451.06 60.27 L452.32 60.51 L453.58 60.75 L454.83 61.00 L456.09 61.24 L457.35 61.48 L458.61 61.73 L459.86 61.97 L461.12 62.21 L462.38 62.46 L463.64 62.71 L464.89 62.95 L466.15 63.20 L467.41 63.44 L468.67 63.69 L469.92 63.94 L471.18 64.19 L472.44 64.43 L473.70 64.68 L474.95 64.93 L476.21 65.18 L477.47 65.43 L478.73 65.68 L479.98 65.93 L481.24 66.17 L482.50 66.42" fill="none" stroke="#e8392b" stroke-width="1"/>
<path d="M266.00 256.50 L266.00 88.05 L266.44 86.23 L266.87 84.44 L267.31 82.68 L267.75 80.94 L268.18 79.23 L268.62 77.54 L269.06 75.89 L269.49 74.27 L269.93 72.68 L270.37 71.13 L270.80 69.61 L271.24 68.13 L271.68 66.69 L272.11 65.29 L272.55 63.94 L272.99 62.62 L273.42 61.36 L273.86 60.13 L274.30 58.96 L274.73 57.83 L275.17 56.75 L275.61 55.72 L276.04 54.75 L276.48 53.83 L276.92 52.95 L277.35 52.11 L277.79 51.30 L278.23 50.53 L278.66 49.80 L279.10 49.12 L279.54 48.49 L279.97 47.90 L280.41 47.34 L280.85 46.80 L281.28 46.29 L281.72 45.81 L282.16 45.36 L282.59 44.93 L283.03 44.54 L283.47 44.18 L283.91 43.81 L284.34 43.46 L284.78 43.13 L285.22 42.81 L285.65 42.53 L286.09 42.29 L286.53 42.10 L286.96 41.95 L287.40 41.82 L287.84 41.70 L288.27 41.59 L288.71 41.49 L289.15 41.40 L289.58 41.33 L290.02 41.27 L290.46 41.22 L290.89 41.20 L291.33 41.17 L291.77 41.15 L292.20 41.14 L292.64 41.12 L293.08 41.11 L293.51 41.10 L293.95 41.10 L294.39 41.10 L294.82 41.12 L295.26 41.14 L295.70 41.18 L296.13 41.21 L296.57 41.26 L297.01 41.30 L297.44 41.36 L297.88 41.43 L298.32 41.52 L298.75 41.63 L299.19 41.75 L299.63 41.88 L300.06 42.02 L300.50 42.18 L300.50 256.50Z" fill="#bdcdf6" stroke="none"/>
<path d="M263.29 256.50 L263.77 244.46 L264.05 232.43 L264.20 220.39 L264.28 208.36 L264.35 196.32 L264.40 184.29 L264.47 172.25 L264.55 160.22 L264.64 148.18 L264.74 136.15 L264.87 124.11 L265.05 112.08 L265.07 110.47 L265.11 108.87 L265.14 107.26 L265.18 105.66 L265.22 104.05 L265.27 102.45 L265.32 100.84 L265.38 99.24 L265.46 97.63 L265.60 96.03 L265.70 97.63 L265.73 99.24 L265.76 100.84 L265.79 102.45 L265.82 104.05 L265.84 105.66 L265.87 107.26 L265.89 108.87 L265.91 110.47 L265.92 112.08 L266.03 124.11 L266.11 136.15 L266.17 148.18 L266.23 160.22 L266.28 172.25 L266.32 184.29 L266.37 196.32 L266.42 208.36 L266.49 220.39 L266.61 232.43 L266.94 244.46 L268.95 256.50Z" fill="#88da94" stroke="#1cab40" stroke-width="0.9" stroke-linejoin="round"/>
<path d="M265.55 256.50 L266.05 243.76 L266.33 231.01 L266.49 218.27 L266.57 205.53 L266.64 192.78 L266.69 180.04 L266.76 167.30 L266.84 154.55 L266.93 141.81 L267.04 129.07 L267.17 116.32 L267.35 103.58 L267.38 101.88 L267.41 100.18 L267.44 98.48 L267.48 96.78 L267.53 95.08 L267.58 93.38 L267.63 91.68 L267.69 89.99 L267.76 88.29 L267.91 86.59 L268.01 88.29 L268.05 89.99 L268.08 91.68 L268.11 93.38 L268.13 95.08 L268.16 96.78 L268.18 98.48 L268.20 100.18 L268.22 101.88 L268.24 103.58 L268.35 116.32 L268.43 129.07 L268.50 141.81 L268.55 154.55 L268.60 167.30 L268.65 180.04 L268.70 192.78 L268.75 205.53 L268.82 218.27 L268.94 231.01 L269.28 243.76 L271.33 256.50Z" fill="#88da94" stroke="#1cab40" stroke-width="0.9" stroke-linejoin="round"/>
<path d="M267.86 256.50 L268.37 243.10 L268.66 229.69 L268.82 216.29 L268.90 202.88 L268.97 189.48 L269.03 176.07 L269.09 162.67 L269.17 149.26 L269.27 135.86 L269.38 122.45 L269.51 109.05 L269.69 95.64 L269.72 93.85 L269.76 92.07 L269.79 90.28 L269.83 88.49 L269.88 86.70 L269.93 84.92 L269.98 83.13 L270.04 81.34 L270.12 79.55 L270.27 77.77 L270.37 79.55 L270.41 81.34 L270.44 83.13 L270.47 84.92 L270.50 86.70 L270.52 88.49 L270.55 90.28 L270.57 92.07 L270.59 93.85 L270.61 95.64 L270.72 109.05 L270.80 122.45 L270.87 135.86 L270.92 149.26 L270.97 162.67 L271.02 176.07 L271.07 189.48 L271.13 202.88 L271.20 216.29 L271.32 229.69 L271.66 243.10 L273.76 256.50Z" fill="#88da94" stroke="#1cab40" stroke-width="0.9" stroke-linejoin="round"/>
<path d="M270.22 256.50 L270.74 242.50 L271.03 228.50 L271.19 214.50 L271.28 200.51 L271.35 186.51 L271.41 172.51 L271.47 158.51 L271.56 144.51 L271.65 130.51 L271.77 116.52 L271.90 102.52 L272.09 88.52 L272.12 86.65 L272.15 84.79 L272.19 82.92 L272.23 81.05 L272.28 79.19 L272.33 77.32 L272.38 75.45 L272.44 73.59 L272.52 71.72 L272.68 69.86 L272.78 71.72 L272.82 73.59 L272.85 75.45 L272.88 77.32 L272.91 79.19 L272.93 81.05 L272.96 82.92 L272.98 84.79 L273.00 86.65 L273.02 88.52 L273.13 102.52 L273.22 116.52 L273.28 130.51 L273.34 144.51 L273.39 158.51 L273.44 172.51 L273.49 186.51 L273.55 200.51 L273.62 214.50 L273.74 228.50 L274.10 242.50 L276.23 256.50Z" fill="#88da94" stroke="#1cab40" stroke-width="0.9" stroke-linejoin="round"/>
<path d="M272.63 256.50 L273.15 242.00 L273.45 227.50 L273.62 213.00 L273.71 198.50 L273.78 183.99 L273.83 169.49 L273.90 154.99 L273.99 140.49 L274.09 125.99 L274.20 111.49 L274.34 96.99 L274.53 82.49 L274.56 80.55 L274.59 78.62 L274.63 76.68 L274.68 74.75 L274.72 72.82 L274.77 70.88 L274.83 68.95 L274.89 67.02 L274.97 65.08 L275.13 63.15 L275.24 65.08 L275.28 67.02 L275.30 68.95 L275.34 70.88 L275.36 72.82 L275.39 74.75 L275.42 76.68 L275.44 78.62 L275.46 80.55 L275.48 82.49 L275.59 96.99 L275.68 111.49 L275.75 125.99 L275.81 140.49 L275.86 154.99 L275.91 169.49 L275.96 183.99 L276.02 198.50 L276.10 213.00 L276.22 227.50 L276.58 242.00 L278.76 256.50Z" fill="#88da94" stroke="#1cab40" stroke-width="0.9" stroke-linejoin="round"/>
<path d="M275.08 256.50 L275.62 241.60 L275.92 226.71 L276.09 211.81 L276.18 196.92 L276.25 182.02 L276.31 167.12 L276.38 152.23 L276.47 137.33 L276.57 122.44 L276.69 107.54 L276.83 92.65 L277.02 77.75 L277.05 75.76 L277.09 73.78 L277.13 71.79 L277.17 69.81 L277.22 67.82 L277.27 65.83 L277.33 63.85 L277.39 61.86 L277.47 59.87 L277.63 57.89 L277.74 59.87 L277.78 61.86 L277.81 63.85 L277.84 65.83 L277.87 67.82 L277.90 69.81 L277.92 71.79 L277.95 73.78 L277.97 75.76 L277.99 77.75 L278.11 92.65 L278.19 107.54 L278.26 122.44 L278.32 137.33 L278.38 152.23 L278.43 167.12 L278.48 182.02 L278.54 196.92 L278.62 211.81 L278.74 226.71 L279.11 241.60 L281.33 256.50Z" fill="#88da94" stroke="#1cab40" stroke-width="0.9" stroke-linejoin="round"/>
<path d="M277.58 256.50 L278.13 241.31 L278.44 226.11 L278.61 210.92 L278.70 195.73 L278.78 180.53 L278.84 165.34 L278.91 150.14 L279.00 134.95 L279.10 119.76 L279.22 104.56 L279.36 89.37 L279.56 74.18 L279.59 72.15 L279.63 70.12 L279.67 68.10 L279.71 66.07 L279.76 64.05 L279.81 62.02 L279.87 60.00 L279.94 57.97 L280.02 55.94 L280.18 53.92 L280.29 55.94 L280.34 57.97 L280.37 60.00 L280.40 62.02 L280.43 64.05 L280.46 66.07 L280.48 68.10 L280.51 70.12 L280.53 72.15 L280.55 74.18 L280.67 89.37 L280.76 104.56 L280.83 119.76 L280.89 134.95 L280.95 150.14 L281.00 165.34 L281.05 180.53 L281.11 195.73 L281.19 210.92 L281.32 226.11 L281.69 241.31 L283.96 256.50Z" fill="#88da94" stroke="#1cab40" stroke-width="0.9" stroke-linejoin="round"/>
<path d="M280.13 256.50 L280.69 241.02 L281.01 225.54 L281.18 210.06 L281.28 194.58 L281.35 179.11 L281.41 163.63 L281.49 148.15 L281.58 132.67 L281.68 117.19 L281.81 101.71 L281.95 86.23 L282.15 70.75 L282.18 68.69 L282.22 66.62 L282.26 64.56 L282.31 62.50 L282.36 60.43 L282.41 58.37 L282.47 56.31 L282.53 54.24 L282.62 52.18 L282.79 50.11 L282.90 52.18 L282.94 54.24 L282.97 56.31 L283.01 58.37 L283.04 60.43 L283.07 62.50 L283.09 64.56 L283.12 66.62 L283.14 68.69 L283.16 70.75 L283.28 86.23 L283.37 101.71 L283.45 117.19 L283.51 132.67 L283.57 148.15 L283.62 163.63 L283.67 179.11 L283.73 194.58 L283.81 210.06 L283.94 225.54 L284.33 241.02 L286.64 256.50Z" fill="#88da94" stroke="#1cab40" stroke-width="0.9" stroke-linejoin="round"/>
<path d="M282.73 256.50 L283.30 240.79 L283.63 225.08 L283.81 209.38 L283.90 193.67 L283.98 177.96 L284.04 162.25 L284.12 146.55 L284.21 130.84 L284.32 115.13 L284.44 99.42 L284.59 83.72 L284.79 68.01 L284.83 65.91 L284.87 63.82 L284.91 61.72 L284.95 59.63 L285.00 57.54 L285.06 55.44 L285.12 53.35 L285.19 51.25 L285.27 49.16 L285.44 47.06 L285.56 49.16 L285.60 51.25 L285.63 53.35 L285.67 55.44 L285.70 57.54 L285.73 59.63 L285.75 61.72 L285.78 63.82 L285.80 65.91 L285.82 68.01 L285.95 83.72 L286.04 99.42 L286.11 115.13 L286.18 130.84 L286.24 146.55 L286.29 162.25 L286.34 177.96 L286.41 193.67 L286.49 209.38 L286.62 225.08 L287.01 240.79 L289.37 256.50Z" fill="#88da94" stroke="#1cab40" stroke-width="0.9" stroke-linejoin="round"/>
<path d="M285.39 256.50 L285.97 240.64 L286.30 224.78 L286.48 208.92 L286.58 193.06 L286.66 177.20 L286.72 161.34 L286.80 145.49 L286.89 129.63 L287.00 113.77 L287.13 97.91 L287.28 82.05 L287.49 66.19 L287.52 64.08 L287.56 61.96 L287.60 59.85 L287.65 57.73 L287.70 55.62 L287.76 53.50 L287.82 51.39 L287.89 49.27 L287.98 47.16 L288.15 45.04 L288.27 47.16 L288.31 49.27 L288.35 51.39 L288.38 53.50 L288.41 55.62 L288.44 57.73 L288.47 59.85 L288.50 61.96 L288.52 64.08 L288.54 66.19 L288.67 82.05 L288.76 97.91 L288.84 113.77 L288.90 129.63 L288.96 145.49 L289.02 161.34 L289.07 177.20 L289.14 193.06 L289.22 208.92 L289.36 224.78 L289.75 240.64 L292.16 256.50Z" fill="#88da94" stroke="#1cab40" stroke-width="0.9" stroke-linejoin="round"/>
<path d="M288.10 256.50 L288.69 240.53 L289.03 224.57 L289.21 208.60 L289.31 192.64 L289.39 176.67 L289.46 160.71 L289.54 144.74 L289.63 128.77 L289.74 112.81 L289.87 96.84 L290.03 80.88 L290.24 64.91 L290.27 62.78 L290.31 60.65 L290.36 58.53 L290.40 56.40 L290.46 54.27 L290.51 52.14 L290.58 50.01 L290.65 47.88 L290.74 45.75 L290.92 43.62 L291.04 45.75 L291.08 47.88 L291.11 50.01 L291.15 52.14 L291.18 54.27 L291.21 56.40 L291.24 58.53 L291.27 60.65 L291.29 62.78 L291.31 64.91 L291.44 80.88 L291.54 96.84 L291.61 112.81 L291.68 128.77 L291.74 144.74 L291.80 160.71 L291.85 176.67 L291.92 192.64 L292.00 208.60 L292.14 224.57 L292.55 240.53 L295.00 256.50Z" fill="#88da94" stroke="#1cab40" stroke-width="0.9" stroke-linejoin="round"/>
<path d="M290.86 256.50 L291.46 240.45 L291.81 224.40 L292.00 208.35 L292.10 192.30 L292.18 176.26 L292.25 160.21 L292.33 144.16 L292.42 128.11 L292.54 112.06 L292.67 96.01 L292.83 79.96 L293.04 63.91 L293.08 61.78 L293.12 59.64 L293.16 57.50 L293.21 55.36 L293.27 53.22 L293.32 51.08 L293.39 48.94 L293.46 46.80 L293.55 44.66 L293.73 42.52 L293.86 44.66 L293.90 46.80 L293.94 48.94 L293.97 51.08 L294.00 53.22 L294.04 55.36 L294.06 57.50 L294.09 59.64 L294.11 61.78 L294.14 63.91 L294.27 79.96 L294.37 96.01 L294.45 112.06 L294.51 128.11 L294.58 144.16 L294.63 160.21 L294.69 176.26 L294.76 192.30 L294.85 208.35 L294.99 224.40 L295.40 240.45 L297.90 256.50Z" fill="#88da94" stroke="#1cab40" stroke-width="0.9" stroke-linejoin="round"/>
<path d="M293.68 256.50 L294.29 240.42 L294.64 224.33 L294.84 208.25 L294.94 192.17 L295.02 176.09 L295.09 160.00 L295.17 143.92 L295.27 127.84 L295.39 111.75 L295.52 95.67 L295.69 79.59 L295.91 63.50 L295.94 61.36 L295.98 59.22 L296.03 57.07 L296.08 54.93 L296.13 52.78 L296.19 50.64 L296.26 48.49 L296.33 46.35 L296.43 44.20 L296.61 42.06 L296.73 44.20 L296.78 46.35 L296.81 48.49 L296.85 50.64 L296.88 52.78 L296.92 54.93 L296.95 57.07 L296.97 59.22 L297.00 61.36 L297.02 63.50 L297.15 79.59 L297.25 95.67 L297.34 111.75 L297.40 127.84 L297.47 143.92 L297.53 160.00 L297.58 176.09 L297.65 192.17 L297.74 208.25 L297.89 224.33 L298.31 240.42 L300.86 256.50Z" fill="#88da94" stroke="#1cab40" stroke-width="0.9" stroke-linejoin="round"/>
<path d="M296.55 256.50 L297.18 240.46 L297.54 224.42 L297.73 208.38 L297.84 192.35 L297.92 176.31 L297.99 160.27 L298.08 144.23 L298.18 128.19 L298.30 112.15 L298.43 96.12 L298.60 80.08 L298.82 64.04 L298.86 61.90 L298.90 59.76 L298.95 57.62 L299.00 55.49 L299.05 53.35 L299.12 51.21 L299.18 49.07 L299.26 46.93 L299.35 44.79 L299.54 42.66 L299.67 44.79 L299.72 46.93 L299.75 49.07 L299.79 51.21 L299.82 53.35 L299.85 55.49 L299.88 57.62 L299.91 59.76 L299.94 61.90 L299.96 64.04 L300.10 80.08 L300.20 96.12 L300.28 112.15 L300.35 128.19 L300.42 144.23 L300.48 160.27 L300.54 176.31 L300.61 192.35 L300.70 208.38 L300.84 224.42 L301.27 240.46 L303.88 256.50Z" fill="#88da94" stroke="#1cab40" stroke-width="0.9" stroke-linejoin="round"/>
<path d="M245.50 256.50 L245.92 252.04 L246.35 247.56 L246.77 243.07 L247.20 238.56 L247.62 234.04 L248.05 229.49 L248.47 224.90 L248.90 220.26 L249.32 215.59 L249.75 210.90 L250.17 206.19 L250.60 201.48 L251.02 196.77 L251.44 192.09 L251.87 187.43 L252.29 182.81 L252.72 178.24 L253.14 173.73 L253.57 169.29 L253.99 164.82 L254.42 160.30 L254.84 155.81 L255.27 151.43 L255.69 147.23 L256.12 143.29 L256.54 139.67 L256.96 136.32 L257.39 133.14 L257.81 130.11 L258.24 127.24 L258.66 124.49 L259.09 121.86 L259.51 119.34 L259.94 116.90 L260.36 114.53 L260.79 112.22 L261.21 109.98 L261.64 107.80 L262.06 105.68 L262.48 103.62 L262.91 101.60 L263.33 99.63 L263.76 97.70 L264.18 95.82 L264.61 93.97 L265.03 92.14 L265.46 90.33 L265.88 88.54 L266.31 86.77 L266.73 85.02 L267.16 83.30 L267.58 81.60 L268.01 79.92 L268.43 78.27 L268.85 76.65 L269.28 75.06 L269.70 73.50 L270.13 71.97 L270.55 70.48 L270.98 69.02 L271.40 67.59 L271.83 66.21 L272.25 64.86 L272.68 63.55 L273.10 62.29 L273.53 61.07 L273.95 59.89 L274.37 58.75 L274.80 57.66 L275.22 56.62 L275.65 55.63 L276.07 54.69 L276.50 53.80 L276.92 52.95 L277.35 52.12 L277.77 51.33 L278.20 50.58 L278.62 49.87 L279.05 49.20 L279.47 48.58 L279.89 48.00 L280.32 47.45 L280.74 46.93 L281.17 46.42 L281.59 45.95 L282.02 45.50 L282.44 45.08 L282.87 44.69 L283.29 44.32 L283.72 43.97 L284.14 43.62 L284.57 43.29 L284.99 42.97 L285.41 42.68 L285.84 42.43 L286.26 42.21 L286.69 42.04 L287.11 41.90 L287.54 41.78 L287.96 41.67 L288.39 41.56 L288.81 41.47 L289.24 41.39 L289.66 41.32 L290.09 41.26 L290.51 41.22 L290.93 41.19 L291.36 41.17 L291.78 41.15 L292.21 41.14 L292.63 41.12 L293.06 41.11 L293.48 41.10 L293.91 41.10 L294.33 41.10 L294.76 41.12 L295.18 41.14 L295.61 41.17 L296.03 41.20 L296.45 41.24 L296.88 41.29 L297.30 41.34 L297.73 41.40 L298.15 41.49 L298.58 41.59 L299.00 41.70 L299.43 41.82 L299.85 41.95 L300.28 42.10 L300.70 42.27 L301.13 42.47 L301.55 42.70 L301.97 42.95 L302.40 43.21 L302.82 43.49 L303.25 43.78 L303.67 44.07 L304.10 44.37 L304.52 44.67 L304.95 44.96 L305.37 45.26 L305.80 45.56 L306.22 45.88 L306.65 46.20 L307.07 46.53 L307.49 46.87 L307.92 47.21 L308.34 47.57 L308.77 47.93 L309.19 48.29 L309.62 48.66 L310.04 49.04 L310.47 49.42 L310.89 49.82 L311.32 50.23 L311.74 50.64 L312.17 51.06 L312.59 51.49 L313.02 51.93 L313.44 52.37 L313.86 52.81 L314.29 53.25 L314.71 53.70 L315.14 54.15 L315.56 54.60 L315.99 55.06 L316.41 55.53 L316.84 56.00 L317.26 56.48 L317.69 56.96 L318.11 57.44 L318.54 57.91 L318.96 58.38 L319.38 58.84 L319.81 59.30 L320.23 59.74 L320.66 60.18 L321.08 60.61 L321.51 61.04 L321.93 61.47 L322.36 61.89 L322.78 62.31 L323.21 62.73 L323.63 63.14 L324.06 63.56 L324.48 63.98 L324.90 64.40 L325.33 64.83 L325.75 65.25 L326.18 65.66 L326.60 66.08 L327.03 66.50 L327.45 66.91 L327.88 67.33 L328.30 67.75 L328.73 68.18 L329.15 68.61 L329.58 69.05 L330.00 69.50 L330.50 70.03 L332.04 71.72 L333.57 73.45 L335.11 75.22 L336.64 77.03 L338.18 78.87 L339.71 80.72 L341.25 82.58 L342.78 84.45 L344.32 86.31 L345.85 88.15 L347.39 89.98 L348.92 91.77 L350.46 93.52 L351.99 95.26 L353.53 96.98 L355.07 98.69 L356.60 100.39 L358.14 102.08 L359.67 103.77 L361.21 105.45 L362.74 107.12 L364.28 108.79 L365.81 110.46 L367.35 112.12 L368.88 113.79 L370.42 115.46 L371.95 117.13 L373.49 118.81 L375.03 120.50 L376.56 122.18 L378.10 123.84 L379.63 125.49 L381.17 127.10 L382.70 128.69 L384.24 130.24 L385.77 131.76 L387.31 133.26 L388.84 134.75 L390.38 136.23 L391.91 137.68 L393.45 139.12 L394.98 140.55 L396.52 141.95 L398.06 143.34 L399.59 144.71 L401.13 146.07 L402.66 147.40 L404.20 148.72 L405.73 150.02 L407.27 151.31 L408.80 152.58 L410.34 153.84 L411.87 155.09 L413.41 156.33 L414.94 157.54 L416.48 158.74 L418.02 159.92 L419.55 161.08 L421.09 162.21 L422.62 163.33 L424.16 164.41 L425.69 165.48 L427.23 166.51 L428.76 167.52 L430.30 168.51 L431.83 169.48 L433.37 170.43 L434.90 171.37 L436.44 172.30 L437.97 173.22 L439.51 174.13 L441.05 175.04 L442.58 175.95 L444.12 176.87 L445.65 177.79 L447.19 178.72 L448.72 179.65 L450.26 180.58 L451.79 181.49 L453.33 182.40 L454.86 183.28 L456.40 184.14 L457.93 184.97 L459.47 185.77 L461.01 186.57 L462.54 187.36 L464.08 188.13 L465.61 188.90 L467.15 189.66 L468.68 190.41 L470.22 191.14 L471.75 191.86 L473.29 192.57 L474.82 193.26 L476.36 193.94 L477.89 194.61 L479.43 195.25 L480.96 195.89 L482.50 196.50" fill="none" stroke="#6f9be8" stroke-width="1.1"/>
<path d="M74.00 215.50 H482.50 M74.00 175.50 H482.50 M74.00 134.50 H482.50 M74.00 94.50 H482.50 M74.00 53.50 H482.50 M142.50 13.00 V256.50 M210.50 13.00 V256.50 M278.50 13.00 V256.50 M346.50 13.00 V256.50 M414.50 13.00 V256.50" fill="none" stroke="#dde3cf" stroke-width="1" stroke-dasharray="1 2" opacity="0.27"/>
<rect x="365.5" y="18.5" width="111" height="60" fill="#fff" stroke="#555" stroke-width="1"/>
<path d="M74.00 215.50 h6 M482.50 215.50 h-6 M74.00 175.50 h6 M482.50 175.50 h-6 M74.00 134.50 h6 M482.50 134.50 h-6 M74.00 94.50 h6 M482.50 94.50 h-6 M74.00 53.50 h6 M482.50 53.50 h-6 M142.50 256.50 v-6 M142.50 13.00 v6 M210.50 256.50 v-6 M210.50 13.00 v6 M278.50 256.50 v-6 M278.50 13.00 v6 M346.50 256.50 v-6 M346.50 13.00 v6 M414.50 256.50 v-6 M414.50 13.00 v6" fill="none" stroke="#636363" stroke-width="1"/>
<rect x="365.5" y="18.5" width="111" height="60" fill="#fff" stroke="#4a4a4a" stroke-width="1"/>
<path d="M74.00 13.00 H482.50 V256.50 H74.00 Z" fill="none" stroke="#636363" stroke-width="1"/>
<path d="M101 256.5 H106.3" stroke="#e8392b" stroke-width="1" opacity="0.5"/>
<path d="M438.7 40.5 H470.7" stroke="#7fa3e8" stroke-width="1"/>
<path d="M438.7 56.5 H470.7" stroke="#ea685c" stroke-width="1"/>
<g font-family="'DejaVu Sans Condensed', 'Liberation Sans', sans-serif" font-size="12" stroke-width="0.2">
<g fill="#222" stroke="#222"><text transform="translate(433.00 44.30) scale(0.890 1)" text-anchor="end">Emitted</text><text transform="translate(433.00 60.40) scale(0.890 1)" text-anchor="end">Observed</text></g>
<g fill="#5a5a5a" stroke="#5a5a5a">
<text transform="translate(68.40 262.50) scale(0.905 1)" text-anchor="end">0×10<tspan font-size="9.60" dy="-4.2">0</tspan></text>
<text transform="translate(68.40 221.92) scale(0.905 1)" text-anchor="end">1×10<tspan font-size="9.60" dy="-4.2">41</tspan></text>
<text transform="translate(68.40 181.33) scale(0.905 1)" text-anchor="end">2×10<tspan font-size="9.60" dy="-4.2">41</tspan></text>
<text transform="translate(68.40 140.75) scale(0.905 1)" text-anchor="end">3×10<tspan font-size="9.60" dy="-4.2">41</tspan></text>
<text transform="translate(68.40 100.17) scale(0.905 1)" text-anchor="end">4×10<tspan font-size="9.60" dy="-4.2">41</tspan></text>
<text transform="translate(68.40 59.58) scale(0.905 1)" text-anchor="end">5×10<tspan font-size="9.60" dy="-4.2">41</tspan></text>
<text transform="translate(68.40 19.00) scale(0.905 1)" text-anchor="end">6×10<tspan font-size="9.60" dy="-4.2">41</tspan></text>
<text transform="translate(74.00 274.90) scale(0.905 1)" text-anchor="middle">0.5</text>
<text transform="translate(142.08 274.90) scale(0.905 1)" text-anchor="middle">1</text>
<text transform="translate(210.17 274.90) scale(0.905 1)" text-anchor="middle">1.5</text>
<text transform="translate(278.25 274.90) scale(0.905 1)" text-anchor="middle">2</text>
<text transform="translate(346.33 274.90) scale(0.905 1)" text-anchor="middle">2.5</text>
<text transform="translate(414.42 274.90) scale(0.905 1)" text-anchor="middle">3</text>
<text transform="translate(482.50 274.90) scale(0.905 1)" text-anchor="middle">3.5</text>
<text transform="translate(278.80 295.00) scale(0.922 1)" text-anchor="middle">Time Since QN (s)</text>
<text transform="translate(14.6 134.4) rotate(-90) scale(0.941 1)" text-anchor="middle">Power (ergs/s)</text>
</g></g>
</svg>
</body></html>
